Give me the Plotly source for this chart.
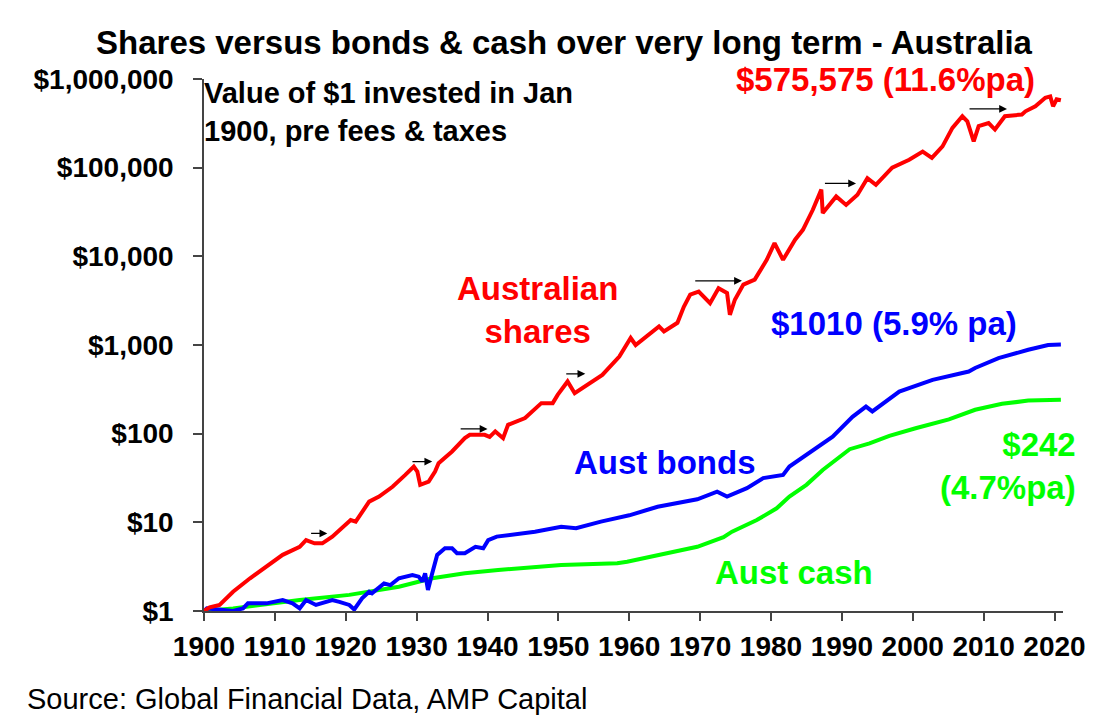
import numpy as np
import plotly.graph_objects as go

# ---------------- data ----------------
shares_years = [1900.0, 1900.8, 1902.2, 1904.1, 1906.5, 1908.8, 1911.1, 1913.5, 1914.4, 1915.6,
                1916.7, 1918.1, 1919.5, 1920.7, 1921.4, 1923.3, 1924.7, 1926.6, 1928.4, 1929.6,
                1930.1, 1930.5, 1931.7, 1932.6, 1933.1, 1935.0, 1936.8, 1937.5, 1939.6, 1940.3,
                1941.1, 1942.2, 1942.9, 1945.3, 1947.6, 1949.2, 1949.9, 1951.3, 1952.3, 1954.4,
                1956.2, 1958.6, 1960.2, 1960.9, 1962.1, 1964.2, 1964.9, 1966.8, 1967.7, 1968.6,
                1969.8, 1971.4, 1972.6, 1973.8, 1974.2, 1974.9, 1976.1, 1977.7, 1979.4, 1980.5,
                1981.7, 1983.4, 1984.5, 1985.9, 1987.1, 1987.3, 1989.2, 1990.6, 1992.2, 1993.6,
                1994.8, 1997.1, 1999.5, 2001.4, 2002.7, 2004.2, 2005.6, 2007.0, 2007.7, 2008.6,
                2009.3, 2010.7, 2011.6, 2013.0, 2015.4, 2015.9, 2017.3, 2018.7, 2019.4, 2019.8,
                2020.3, 2020.9]
shares_values = [1.0, 1.1, 1.17, 1.65, 2.34, 3.16, 4.3, 5.3, 6.3, 5.8,
                 5.8, 6.9, 8.6, 10.6, 10.2, 17.1, 19.5, 25.2, 34.3, 42.6,
                 37.3, 26.5, 28.8, 37.3, 46.4, 63, 89, 97, 97, 92,
                 106, 89, 126, 150, 221, 221, 274, 388, 286, 372,
                 460, 742, 1200, 1000, 1200, 1620, 1420, 1780, 2700, 3700,
                 4000, 2960, 4370, 3850, 2190, 3240, 4800, 5470, 9130, 14100,
                 9130, 15400, 19900, 33500, 56500, 30800, 47400, 38000, 49600, 76000,
                 64000, 100000, 123000, 152000, 129000, 174000, 281000, 380000, 333000, 198000,
                 294000, 318000, 269000, 380000, 398000, 432000, 492000, 614000, 636000, 492000,
                 590000, 575575]

bonds_years = [1900.0, 1900.4, 1904.1, 1905.5, 1906.2, 1908.8, 1911.1, 1912.5, 1913.5, 1914.4,
               1915.8, 1918.1, 1919.1, 1920.5, 1921.2, 1922.3, 1923.3, 1923.7, 1925.4, 1926.3,
               1927.5, 1929.4, 1930.3, 1930.8, 1931.2, 1931.6, 1932.2, 1932.9, 1934.0, 1935.0,
               1935.7, 1936.8, 1938.3, 1939.4, 1940.1, 1941.3, 1946.7, 1950.4, 1952.5, 1956.0,
               1960.0, 1964.0, 1969.6, 1972.4, 1973.8, 1976.6, 1978.9, 1981.7, 1982.6, 1985.9,
               1988.7, 1991.5, 1993.4, 1994.3, 1998.1, 2002.8, 2007.9, 2008.8, 2012.1, 2016.3,
               2019.1, 2020.9]
bonds_values = [1.0, 1.07, 1.0, 1.07, 1.22, 1.22, 1.33, 1.22, 1.07, 1.33,
                1.17, 1.33, 1.27, 1.17, 1.04, 1.39, 1.65, 1.58, 2.05, 1.96,
                2.34, 2.55, 2.44, 2.14, 2.66, 1.73, 2.66, 4.29, 5.1, 5.1,
                4.48, 4.48, 5.3, 5.1, 6.3, 6.9, 7.85, 8.9, 8.6, 10.2,
                12.0, 15.0, 18.2, 22.2, 19.5, 24.3, 31.5, 34.3, 42.6, 65.6,
                92.7, 155, 202, 178, 298, 405, 502, 550, 710, 883,
                1000, 1010]

cash_years = [1900.0, 1904.1, 1913.5, 1920.5, 1927.5, 1932.2, 1936.8, 1941.5, 1950.4, 1958.3,
              1959.7, 1964.4, 1969.6, 1973.3, 1974.5, 1978.0, 1980.8, 1982.6, 1985.0, 1987.3,
              1989.2, 1991.1, 1993.9, 1996.7, 2000.4, 2005.1, 2008.8, 2012.6, 2016.3, 2020.9]
cash_values = [1.0, 1.07, 1.33, 1.52, 1.88, 2.34, 2.66, 2.9, 3.3, 3.45,
               3.6, 4.29, 5.3, 6.8, 7.85, 10.6, 14.4, 19.5, 26.5, 39,
               50.6, 66.8, 77.8, 94.4, 115, 145, 186, 217, 236, 242]

# arrows marking flat periods of the share market
arrow_start_years = [1914.9, 1929.2, 1936.0, 1950.9, 1969.1, 1987.4, 2007.8]
arrow_end_years = [1917.4, 1932.2, 1940.0, 1953.8, 1975.9, 1992.0, 2013.3]
arrow_values = [7.5, 48.4, 113, 473, 5300, 66500, 460000]

tick_years = list(range(1900, 2021, 10))
y_tick_values = [1, 10, 100, 1000, 10000, 100000, 1000000]
y_tick_labels = ["$1", "$10", "$100", "$1,000", "$10,000", "$100,000", "$1,000,000"]

RED, BLUE, GREEN = "#FF0000", "#0000FF", "#00FF00"
FONT = "Liberation Sans, Arial, sans-serif"

fig = go.Figure()
fig.add_trace(go.Scatter(x=cash_years, y=cash_values, mode="lines",
                         line=dict(color=GREEN, width=4), name="Aust cash"))
fig.add_trace(go.Scatter(x=bonds_years, y=bonds_values, mode="lines",
                         line=dict(color=BLUE, width=4), name="Aust bonds"))
fig.add_trace(go.Scatter(x=shares_years, y=shares_values, mode="lines",
                         line=dict(color=RED, width=4), name="Australian shares"))

annotations = []
for x0, x1, v in zip(arrow_start_years, arrow_end_years, arrow_values):
    annotations.append(dict(x=x1, y=np.log10(v), ax=x0, ay=np.log10(v),
                            xref="x", yref="y", axref="x", ayref="y",
                            showarrow=True, arrowhead=2, arrowsize=1.2, arrowwidth=1.3,
                            arrowcolor="black", text=""))

def label(text, x, v, color, size=33, xanchor="center", align="center", xref="x"):
    annotations.append(dict(text=text, x=x, y=np.log10(v), xref=xref, yref="y",
                            showarrow=False, xanchor=xanchor, yanchor="middle", align=align,
                            font=dict(family=FONT, size=size, color=color, weight="bold")))

label("Australian<br>shares", 1947.1, 2500, RED)
label("$575,575 (11.6%pa)", 1996.1, 980000, RED)
label("$1010 (5.9% pa)", 1997.3, 1750, BLUE)
label("Aust bonds", 1965.0, 47, BLUE)
label("Aust cash", 1983.3, 2.7, GREEN)
# these two sit at the plot edges, so they are placed along x in paper units
label("$242<br>(4.7%pa)", 1.018, 43, GREEN, xanchor="right", align="right", xref="paper")
label("Value of $1 invested in Jan<br>1900, pre fees & taxes", -0.002, 420000, "black",
      size=29, xanchor="left", align="left", xref="paper")

annotations.append(dict(text="Source: Global Financial Data, AMP Capital",
                        x=-0.208, y=-0.165, xref="paper", yref="paper", showarrow=False,
                        xanchor="left", yanchor="middle",
                        font=dict(family=FONT, size=29, color="black")))

# the page body adds an 8 px offset, so the figure is 8 px smaller on each axis
fig.update_layout(
    width=1112, height=719,
    margin=dict(l=196, r=57, t=71, b=116),
    paper_bgcolor="white", plot_bgcolor="white",
    showlegend=False,
    title=dict(text="<b>Shares versus bonds & cash over very long term - Australia</b>",
               x=0.5, y=1 - 34 / 719, xanchor="center", yanchor="middle",
               font=dict(family=FONT, size=33, color="black")),
    annotations=annotations,
    font=dict(family=FONT, color="black"),
)
fig.update_xaxes(range=[1900, 2021.2], tickvals=tick_years, showgrid=False, zeroline=False,
                 showline=True, linecolor="#444444", linewidth=1.5,
                 ticks="outside", ticklen=8, tickcolor="#444444", tickwidth=1.5,
                 ticklabelstandoff=2,
                 tickfont=dict(family=FONT, size=28, color="black", weight="bold"))
fig.update_yaxes(type="log", range=[0, 6], tickvals=y_tick_values, ticktext=y_tick_labels,
                 showgrid=False, zeroline=False, showline=True, linecolor="#444444", linewidth=1.5,
                 ticks="outside", ticklen=9, tickcolor="#444444", tickwidth=1.5,
                 ticklabelstandoff=14,
                 tickfont=dict(family=FONT, size=28, color="black", weight="bold"))

fig.write_html("out.html")
